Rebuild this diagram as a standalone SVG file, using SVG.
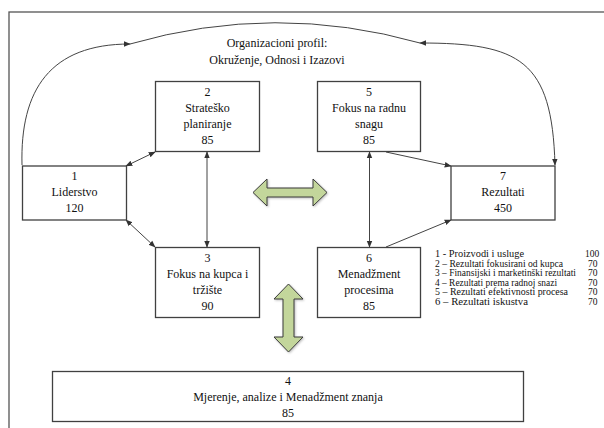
<svg xmlns="http://www.w3.org/2000/svg" width="604" height="428" viewBox="0 0 604 428">
<defs>
<marker id="ah" viewBox="0 0 10 10" refX="9" refY="5" markerWidth="7" markerHeight="7" orient="auto-start-reverse" markerUnits="userSpaceOnUse">
<path d="M0,1 L10,5 L0,9 z" fill="#333"/>
</marker>
<filter id="sh" x="-20%" y="-20%" width="140%" height="140%">
<feDropShadow dx="1" dy="1" stdDeviation="1" flood-color="#000" flood-opacity="0.25"/>
</filter>
</defs>
<style>
.box{fill:#fff;stroke:#404040;stroke-width:1.3}
text{font-family:'Liberation Serif','DejaVu Serif','Times New Roman',serif;fill:#111}
.t{font-size:12px;text-anchor:middle}
.lg{font-size:9.5px}
.c{fill:none;stroke:#444;stroke-width:1}
.g{fill:#c3d69b;stroke:#3a3a3a;stroke-width:1;filter:url(#sh)}
</style>
<rect width="604" height="428" fill="#fff"/>
<rect x="9" y="12" width="640" height="460" fill="none" stroke="#555" stroke-width="1.3"/>

<g id="profile">
<text class="t" x="277" y="47">Organizacioni profil:</text>
<text class="t" x="277" y="64">Okruženje, Odnosi i Izazovi</text>
</g>

<g id="connectors">
<path class="c" d="M22,165 C20,90 50,44 130,44" marker-end="url(#ah)"/>
<path class="c" d="M130,44 Q275,2 420,43"/>
<path class="c" d="M420,43 C520,43 552,60 555,165" marker-start="url(#ah)" marker-end="url(#ah)"/>
<line class="c" x1="126" y1="166" x2="155" y2="152" marker-start="url(#ah)" marker-end="url(#ah)"/>
<line class="c" x1="126" y1="220" x2="155" y2="247" marker-start="url(#ah)" marker-end="url(#ah)"/>
<line class="c" x1="207" y1="152" x2="207" y2="247" marker-start="url(#ah)" marker-end="url(#ah)"/>
<line class="c" x1="369.5" y1="152" x2="369.5" y2="247" marker-start="url(#ah)" marker-end="url(#ah)"/>
<line class="c" x1="386" y1="152" x2="451" y2="166" marker-end="url(#ah)"/>
<line class="c" x1="386" y1="247" x2="451" y2="220" marker-end="url(#ah)"/>
</g>

<g id="n2">
<rect class="box" x="155.5" y="81.5" width="104" height="70"/>
<text class="t" x="207.5" y="96">2</text>
<text class="t" x="207.5" y="112">Strateško</text>
<text class="t" x="207.5" y="128">planiranje</text>
<text class="t" x="207.5" y="144">85</text>
</g>
<g id="n5">
<rect class="box" x="317.5" y="81.5" width="103" height="70"/>
<text class="t" x="369" y="96">5</text>
<text class="t" x="369" y="112">Fokus na radnu</text>
<text class="t" x="369" y="128">snagu</text>
<text class="t" x="369" y="144">85</text>
</g>
<g id="n1">
<rect class="box" x="22.5" y="166" width="104" height="54"/>
<text class="t" x="74.5" y="180">1</text>
<text class="t" x="74.5" y="196">Liderstvo</text>
<text class="t" x="74.5" y="212">120</text>
</g>
<g id="n7">
<rect class="box" x="451" y="166" width="104" height="54"/>
<text class="t" x="503" y="180">7</text>
<text class="t" x="503" y="196">Rezultati</text>
<text class="t" x="503" y="212">450</text>
</g>
<g id="n3">
<rect class="box" x="155.5" y="247.5" width="104" height="70"/>
<text class="t" x="207.5" y="262">3</text>
<text class="t" x="207.5" y="278">Fokus na kupca i</text>
<text class="t" x="207.5" y="294">tržište</text>
<text class="t" x="207.5" y="310">90</text>
</g>
<g id="n6">
<rect class="box" x="317.5" y="247.5" width="103" height="70"/>
<text class="t" x="369" y="262">6</text>
<text class="t" x="369" y="278">Menadžment</text>
<text class="t" x="369" y="294">procesima</text>
<text class="t" x="369" y="310">85</text>
</g>
<g id="n4">
<rect class="box" x="52.5" y="371.5" width="471" height="50"/>
<text class="t" x="288" y="385">4</text>
<text class="t" x="288" y="401">Mjerenje, analize i Menadžment znanja</text>
<text class="t" x="288" y="417">85</text>
</g>

<g id="harrow">
<path class="g" d="M253,192.5 L267,179 L267,188 L313,188 L313,179 L327,192.5 L313,206 L313,197 L267,197 L267,206 z"/>
</g>
<g id="varrow">
<path class="g" d="M288.5,284 L303,299 L294,299 L294,337 L303,337 L288.5,352 L274,337 L283,337 L283,299 L274,299 z"/>
</g>

<g id="legend">
<text class="lg" x="435" y="257" textLength="89" lengthAdjust="spacingAndGlyphs">1 - Proizvodi i usluge</text>
<text class="lg" x="435" y="266.5" textLength="128" lengthAdjust="spacingAndGlyphs">2 – Rezultati fokusirani od kupca</text>
<text class="lg" x="435" y="276" textLength="141" lengthAdjust="spacingAndGlyphs">3 – Finansijski i marketinški rezultati</text>
<text class="lg" x="435" y="285.5" textLength="122" lengthAdjust="spacingAndGlyphs">4 – Rezultati prema radnoj snazi</text>
<text class="lg" x="435" y="295" textLength="133" lengthAdjust="spacingAndGlyphs">5 – Rezultati efektivnosti procesa</text>
<text class="lg" x="435" y="304.5" textLength="93" lengthAdjust="spacingAndGlyphs">6 – Rezultati iskustva</text>
<text class="lg" x="585" y="257">100</text>
<text class="lg" x="588" y="266.5">70</text>
<text class="lg" x="588" y="276">70</text>
<text class="lg" x="588" y="285.5">70</text>
<text class="lg" x="588" y="295">70</text>
<text class="lg" x="588" y="304.5">70</text>
</g>
</svg>
